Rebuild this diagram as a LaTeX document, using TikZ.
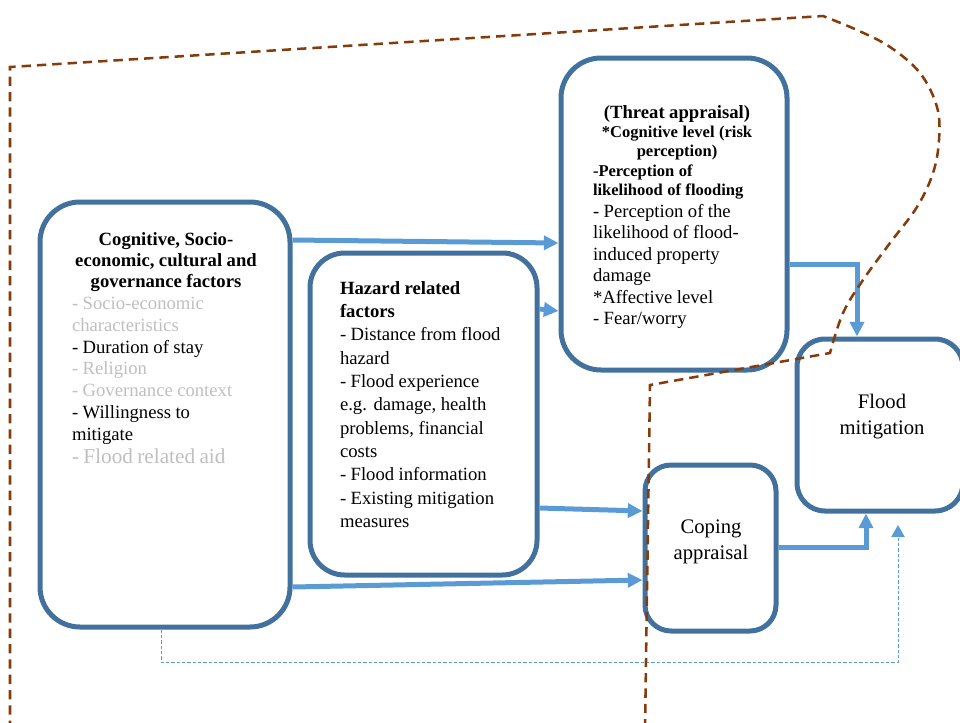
\documentclass[tikz,border=0pt]{standalone}
\usepackage{fontspec}
\setmainfont{Liberation Serif}
\usetikzlibrary{arrows.meta,calc}
\definecolor{boxblue}{RGB}{65,113,156}
\definecolor{arrblue}{RGB}{91,155,213}
\definecolor{dashbrown}{RGB}{132,60,12}
\definecolor{txtgray}{RGB}{191,191,191}
\begin{document}
\begin{tikzpicture}[x=0.75pt,y=-0.75pt,
  roundbox/.style={draw=boxblue, line width=3.75pt, rounded corners=#1, inner sep=0pt},
  conn/.style={draw=arrblue, line width=3.75pt, -{Triangle[length=11pt,width=10.5pt]}},
  fbconn/.style={draw=arrblue, line width=0.75pt, dash pattern=on 2.5pt off 1.5pt, -{Triangle[length=9pt,width=10pt]}},
  boundary/.style={draw=dashbrown, line width=1.9pt, dash pattern=on 7pt off 4.5pt},
  txt/.style={inner sep=0pt, outer sep=0pt}]
\useasboundingbox (0,0) rectangle (960,722);

% boxes
\node[roundbox=30pt, minimum width=187.5pt, minimum height=318.75pt] (b1) at (165,414.5) {};
\node[roundbox=26pt, minimum width=170.25pt, minimum height=241.5pt] (b2) at (423.5,414) {};
\node[roundbox=30pt, minimum width=169.5pt, minimum height=234pt] (b3) at (674,214) {};
\node[roundbox=21pt, minimum width=124.5pt, minimum height=129pt] (b4) at (880,425) {};
\node[roundbox=19.5pt, minimum width=98.25pt, minimum height=124.5pt] (b5) at (710.5,548) {};

% texts
\node[txt, anchor=base west, text width=141pt] (t1) at (72,245) {%
{\fontsize{14pt}{16.1pt}\selectfont\bfseries\centering Cognitive, Socio-\\economic, cultural and\\governance factors\par}%
{\fontsize{14pt}{16.3pt}\selectfont\raggedright
{\color{txtgray}- Socio-economic\\characteristics}\\
- Duration of stay\\
{\color{txtgray}- Religion\\- Governance context}\\
- Willingness to\\mitigate\par}%
{\fontsize{15.9pt}{17.3pt}\selectfont\raggedright\color{txtgray}- Flood related aid\par}};

\node[txt, anchor=base west, text width=142.5pt] (t2) at (340,294) {%
{\fontsize{14pt}{17.5pt}\selectfont\raggedright
\textbf{Hazard related}\\\textbf{factors}\\
- Distance from flood\\hazard\\
- Flood experience\\e.g. damage, health\\problems, financial\\costs\\
- Flood information\\
- Existing mitigation\\measures\par}};

\node[txt, anchor=base west, text width=126pt] (t3) at (593,118) {%
{\fontsize{14pt}{16pt}\selectfont\bfseries\centering (Threat appraisal)\par}%
{\fontsize{12.4pt}{14.6pt}\selectfont\bfseries\centering *Cognitive level (risk\\perception)\par}%
{\fontsize{12.4pt}{14.6pt}\selectfont\bfseries\raggedright -Perception of\\likelihood of flooding\par}%
{\fontsize{14pt}{16.1pt}\selectfont\raggedright - Perception of the\\likelihood of flood-\\induced property\\damage\\{}*Affective level\\- Fear/worry\par}};

\node[txt, anchor=base, text width=90pt] (t5) at (711,533) {%
{\fontsize{15.5pt}{19.5pt}\selectfont\centering Coping\\appraisal\par}};
\node[txt, anchor=base, text width=90pt] (t4) at (882,408) {%
{\fontsize{15.5pt}{19.5pt}\selectfont\centering Flood\\mitigation\par}};

% connectors
\draw[conn] ([yshift=130.875pt]b1.east) -- ([yshift=-21.75pt]b3.west);
\draw[conn] ([yshift=78.75pt]b2.east) -- ([yshift=-72.75pt]b3.west);
\draw[conn] ([yshift=-70.5pt]b2.east) -- ([yshift=27.75pt]b5.west);
\draw[conn] ([yshift=-129.375pt]b1.east) -- ([yshift=-24pt]b5.west);
\draw[conn] ([yshift=-37.5pt]b3.east) -| ([xshift=-17.25pt]b4.north);
\draw[conn] ([yshift=0.75pt]b5.east) -| ([xshift=-10.5pt]b4.south);

\coordinate (fbcorner) at (898,662);
\coordinate (fbtip) at (898,525);
\draw[fbconn] ([xshift=-3pt]b1.south) |- (fbcorner) -- (fbtip);

% boundary
\draw[boundary] (10,730) -- (10,67) -- (823,16)
  -- plot[smooth, tension=0.6] coordinates {(823,16) (857,30) (890,47) (920,73) (937,107) (939,140) (933,173) (917,207) (890,243) (863,280) (843,313) (830,353)}
  -- (650,385) -- (645,730);
\end{tikzpicture}
\end{document}
